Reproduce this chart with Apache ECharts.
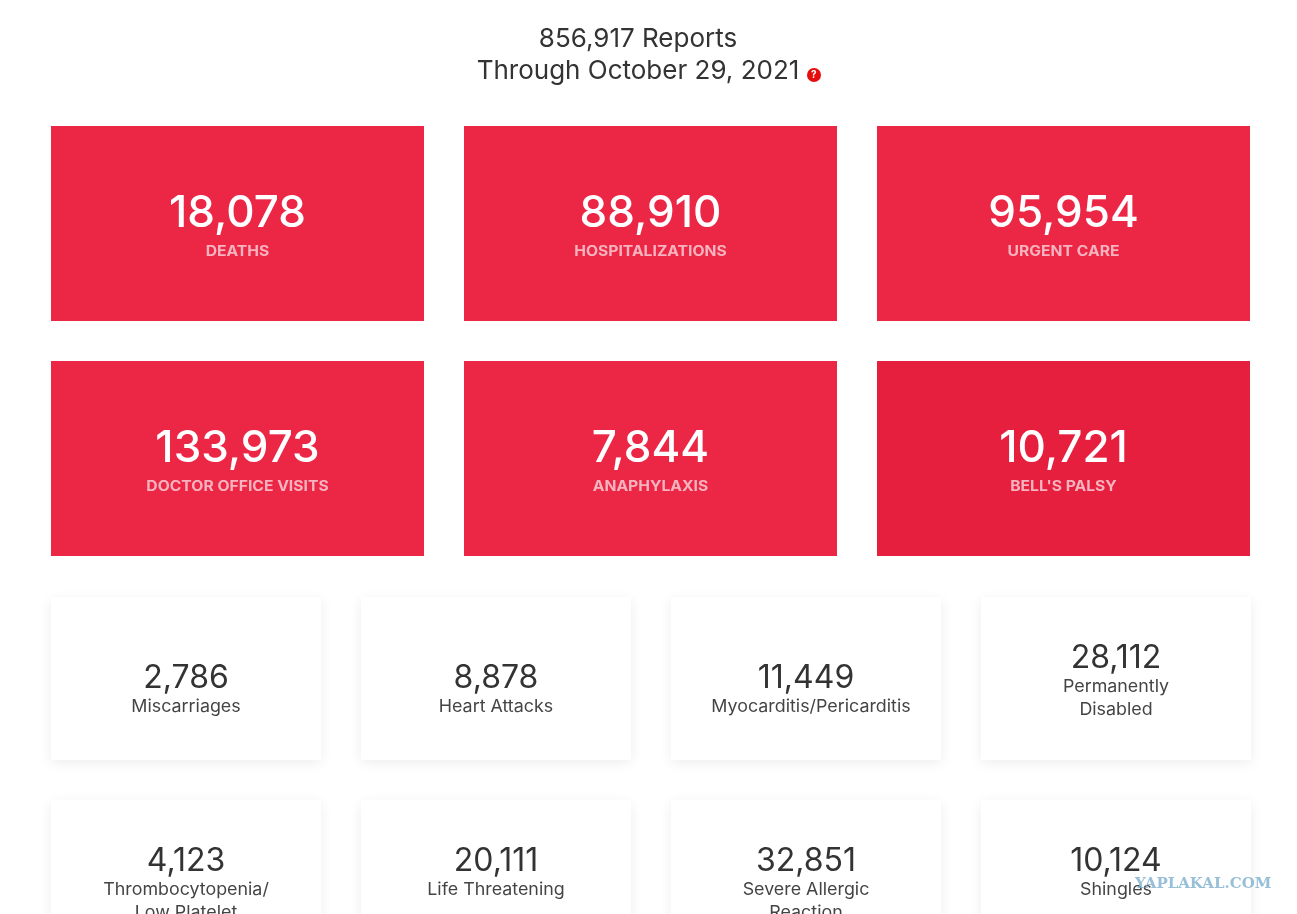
<!DOCTYPE html>
<html><head><meta charset="utf-8">
<style>html,body{margin:0;padding:0;background:#fff;overflow:hidden}#c{width:1297px;height:914px}</style>
<script src="https://cdn.jsdelivr.net/npm/echarts@6/dist/echarts.min.js"></script>
</head><body><div id="c"></div>
<script>
const reportTotal = "856,917 Reports";
const reportDate = "Through October 29, 2021";
const redValues = ["18,078","88,910","95,954","133,973","7,844","10,721"];
const redLabels = ["DEATHS","HOSPITALIZATIONS","URGENT CARE","DOCTOR OFFICE VISITS","ANAPHYLAXIS","BELL'S PALSY"];
const redColors = ["#ec2746","#ec2746","#ec2746","#ec2746","#ec2746","#e51f3d"];
const whiteValues = ["2,786","8,878","11,449","28,112","4,123","20,111","32,851","10,124"];
const whiteLabels = ["Miscarriages","Heart Attacks","\u00a0\u00a0Myocarditis/Pericarditis","Permanently\nDisabled","Thrombocytopenia/\nLow Platelet","Life Threatening\n","Severe Allergic\nReaction","Shingles\n"];
const watermark = "YAPLAKAL.COM";

const FONT = 'Inter, "Open Sans", sans-serif';
const INK = '#333333';
const redData = redValues.map((v,i)=>[i%3, Math.floor(i/3), v, redLabels[i], redColors[i]]);
const whiteData = whiteValues.map((v,i)=>[i%4, Math.floor(i/4), v, whiteLabels[i]]);
const hiddenAxis = (idx, data, inverse)=>({type:'category', gridIndex:idx, data, show:false, inverse:!!inverse, boundaryGap:true});

function renderRed(params, api){
  const c = api.coord([api.value(0), api.value(1)]);
  const w = 373, h = 195;
  const i = params.dataIndex;
  return {type:'group', x:c[0], y:c[1], children:[
    {type:'rect', shape:{x:-w/2,y:-h/2,width:w,height:h}, style:{fill:redData[i][4]}},
    {type:'text', x:0, y:-10, style:{text:redData[i][2], fill:'#fff', font:'500 44px '+FONT, align:'center', verticalAlign:'middle'}},
    {type:'text', x:0, y:28, scaleX:1.12, style:{text:redData[i][3], fill:'#f7b3bf', font:'700 14px '+FONT, align:'center', verticalAlign:'middle'}}
  ]};
}
function renderWhite(params, api){
  const c = api.coord([api.value(0), api.value(1)]);
  const w = 270, h = 163;
  const i = params.dataIndex;
  const two = whiteData[i][3].indexOf('\n')>=0;
  const top = two ? -23 : -3;
  return {type:'group', x:c[0], y:c[1], children:[
    {type:'rect', shape:{x:-w/2,y:-h/2,width:w,height:h}, style:{fill:'#fff', shadowBlur:12, shadowColor:'rgba(0,0,0,0.07)', shadowOffsetY:3}},
    {type:'text', x:0, y:top+2.5, style:{text:whiteData[i][2], fill:INK, font:'400 32px '+FONT, align:'center', verticalAlign:'middle'}},
    {type:'text', x:0, y:top+19.5, scaleX:1.05, style:{text:whiteData[i][3], fill:'#444', font:'400 17px '+FONT, lineHeight:23, align:'center', verticalAlign:'top'}}
  ]};
}
const chart = echarts.init(document.getElementById('c'), null, {renderer:'canvas'});
chart.setOption({
  animation:false,
  backgroundColor:'#fff',
  title:{left:633, top:18.5, textAlign:'center', text:reportTotal+"\n"+reportDate,
    textStyle:{fontFamily:FONT,fontWeight:400,fontSize:26,lineHeight:32,color:INK}},
  grid:[
    {left:31, top:106, width:1239, height:470, outerBoundsMode:'none'},
    {left:31, top:577, width:1240, height:406, outerBoundsMode:'none'}
  ],
  xAxis:[hiddenAxis(0,[0,1,2]), hiddenAxis(1,[0,1,2,3])],
  yAxis:[hiddenAxis(0,[0,1],true), hiddenAxis(1,[0,1],true)],
  series:[
    {type:'custom', xAxisIndex:0, yAxisIndex:0, data:redData, renderItem:renderRed, clip:false, silent:true},
    {type:'custom', xAxisIndex:1, yAxisIndex:1, data:whiteData, renderItem:renderWhite, clip:false, silent:true}
  ],
  graphic:[
    {type:'circle', left:807, top:68, shape:{r:7}, style:{fill:'#e60d0d'}, z:10},
    {type:'text', left:811, top:70, style:{text:'?', fill:'#fff', font:'700 10px '+FONT}, z:11},
    {type:'text', left:1135, top:876.5, style:{text:watermark, fill:'rgba(125,175,205,0.8)', font:'700 15px "DejaVu Serif", serif'}, z:20}
  ]
});
</script></body></html>
